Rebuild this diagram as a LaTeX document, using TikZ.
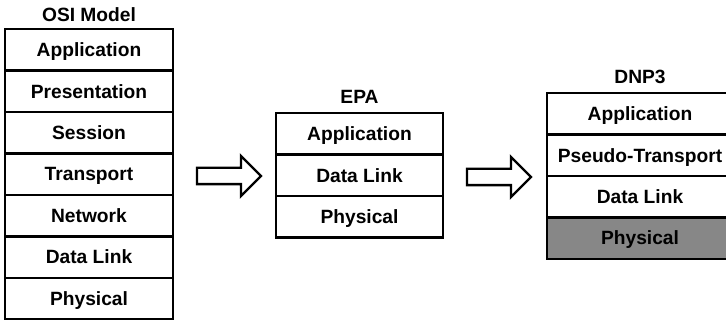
\documentclass[tikz,border=0pt]{standalone}
\usepackage{fontspec}
\setmainfont{Liberation Sans}
\usetikzlibrary{positioning,shapes.arrows}
\definecolor{physgray}{RGB}{135,135,135}

\begin{document}
\begin{tikzpicture}[
  x=0.75pt, y=-0.75pt,
  font=\fontsize{14.4}{16}\selectfont\bfseries,
  layer/.style={draw, line width=1.8pt, minimum height=31.1pt, inner sep=0pt,
                outer sep=0pt, text height=10.3pt, text depth=0pt},
  osi/.style={layer, minimum width=126pt},
  epa/.style={layer, minimum width=125.25pt},
  dnp/.style={layer, minimum width=139.5pt},
  title/.style={inner sep=0pt, text height=10.3pt, text depth=0pt},
  blockarrow/.style={single arrow, draw, line width=1.7pt, minimum height=48pt,
                     inner xsep=0pt, inner ysep=5.25pt, single arrow head extend=9pt}
]
\useasboundingbox (0,0) rectangle (726,323);

% OSI stack
\node[osi, anchor=north] (osiapp) at (89,29) {Application};
\node[osi, below=0pt of osiapp] (osipres) {Presentation};
\node[osi, below=0pt of osipres] (osises) {Session};
\node[osi, below=0pt of osises] (ositrans) {Transport};
\node[osi, below=0pt of ositrans] (osinet) {Network};
\node[osi, below=0pt of osinet] (osidl) {Data Link};
\node[osi, below=0pt of osidl] (osiphy) {Physical};
\node[title, above=5.5pt of osiapp] (osititle) {OSI Model};

% EPA stack
\node[epa, anchor=north] (epaapp) at (359.5,113) {Application};
\node[epa, below=0pt of epaapp] (epadl) {Data Link};
\node[epa, below=0pt of epadl] (epaphy) {Physical};
\node[title, above=7pt of epaapp] (epatitle) {EPA};

% DNP3 stack
\node[dnp, anchor=north] (dnpapp) at (640,93) {Application};
\node[dnp, below=0pt of dnpapp] (dnptrans) {Pseudo-Transport};
\node[dnp, below=0pt of dnptrans] (dnpdl) {Data Link};
\node[dnp, fill=physgray, below=0pt of dnpdl] (dnpphy) {Physical};
\node[title, above=7pt of dnpapp] (dnptitle) {DNP3};

% arrows between stacks
\node[blockarrow] (arrowA) at (225,176) {};
\node[blockarrow] (arrowB) at (495,177) {};
\end{tikzpicture}
\end{document}
